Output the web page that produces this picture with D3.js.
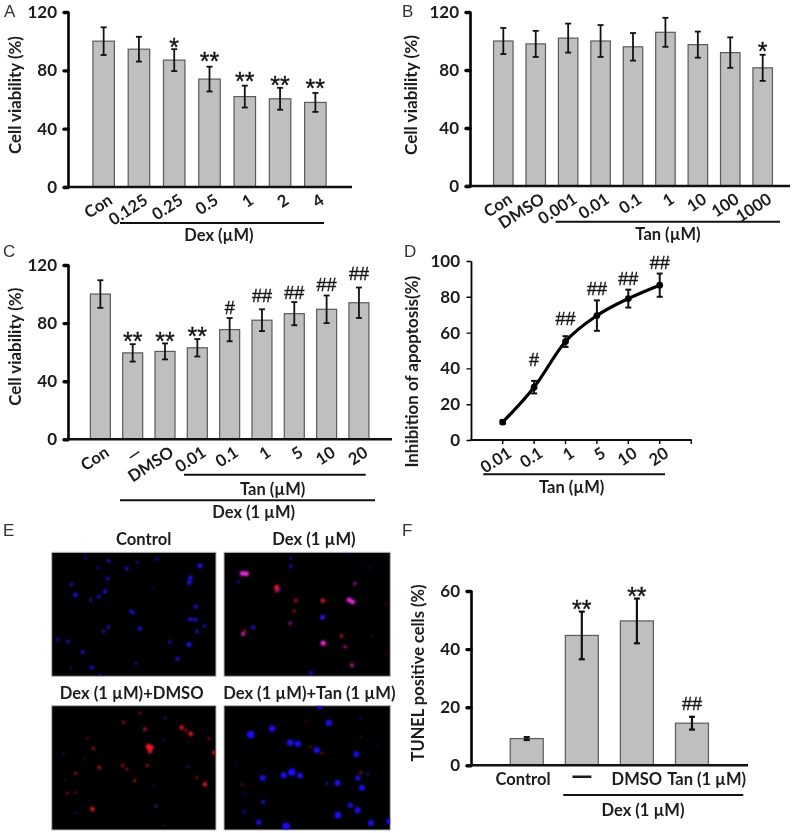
<!DOCTYPE html>
<html><head><meta charset="utf-8">
<style>
html,body{margin:0;padding:0;background:#fff}
svg{display:block;filter:blur(0.4px)}
text{font-family:Lato,"Noto Sans",sans-serif;font-weight:700;fill:#1c1c1c}
</style>
<script src="https://cdnjs.cloudflare.com/ajax/libs/d3/7.8.5/d3.min.js"></script>
</head><body>
<svg id="chart" width="800" height="833"></svg>
<script>
// ---------- data ----------
const catsA = ["Con","0.125","0.25","0.5","1","2","4"];
const valsA = [100,94.5,87,74,62,60.5,58];
const errsA = [9.5,8.5,7.5,8.5,7.5,7.5,6.5];
const sigA  = ["","","*","**","**","**","**"];
const sigYA = [0,0,99.6,90.5,76.8,74,71.5];

const catsB = ["Con","DMSO","0.001","0.01","0.1","1","10","100","1000"];
const valsB = [100,98,102,100,96,106,97.5,92,81.5];
const errsB = [9,9,10,11,9.5,10,9,10.5,9];
const sigB  = ["","","","","","","","","*"];
const sigYB = [0,0,0,0,0,0,0,0,97];

const catsC = ["Con","—","DMSO","0.01","0.1","1","5","10","20"];
const valsC = [100,59.5,60.5,63,75.5,82,86.5,89.5,94];
const errsC = [9.5,6,5.5,6,8,7.5,8,9.5,10.5];
const sigC  = ["","**","**","**","#","##","##","##","##"];
const sigYC = [0,71.4,71.4,75.2,91,99,101.3,106.3,113.9];

const catsD = ["0.01","0.1","1","5","10","20"];
const valsD = [10,29.5,55,69.5,79,86.5];
const errsD = [1,3.5,3,8.5,5,6.5];
const sigD  = ["","#","##","##","##","##"];
const sigYD = [0,44.7,67.6,84.9,90.5,99];

const catsF = ["Control","—","DMSO","Tan (1 µM)"];
const valsF = [9.2,44.7,49.7,14.5];
const errsF = [0.5,8.2,7.7,2.2];
const sigF  = ["","**","**","##"];
const sigYF = [0,55.8,60.3,21.3];

const ticks120 = [0,40,80,120];
const ticks100 = [0,20,40,60,80,100];
const ticks60  = [0,20,40,60];

const titlesE = ["Control","Dex (1 µM)","Dex (1 µM)+DMSO","Dex (1 µM)+Tan (1 µM)"];

// micrograph cells: [field x, field y, intensity]
const blueE1 = [[107,24,.5],[176,34,.7],[145,53,.5],[230,56,.7],[262,38,.5],[321,28,.6],[450,48,1],[421,84,.9],[418,98,.9],[64,103,.7],[173,87,.7],[165,125,.8],[147,141,.7],[76,135,.9],[122,150,.6],[310,115,.3],[243,184,.7],[250,188,.7],[437,170,.8],[420,208,.8],[436,209,.8],[175,231,.7],[161,245,.6],[269,236,.8],[441,244,.7],[463,228,.6],[24,269,.6],[54,274,.7],[359,276,.6],[417,283,1],[98,306,.7],[382,326,.8],[258,339,.5],[62,354,.4],[125,352,.8],[152,376,.6],[355,378,.4]];
const redE1  = [[160,240,.2],[208,285,.15],[358,260,.2],[100,125,.12]];
const magE2  = [[60,71,.9],[72,72,.9],[380,150,.9],[390,156,.9],[302,279,1],[62,252,.7],[203,220,.5],[397,101,.5],[388,345,.6],[368,290,.5]];
const blueE2 = [[205,25,.5],[205,50,.6],[48,96,.5],[170,120,.5],[300,202,.9],[93,232,.7],[266,368,.7],[437,55,.3],[375,14,.3]];
const redE2  = [[163,112,.9],[163,122,.7],[301,152,.8],[220,152,.6],[215,183,.5],[357,258,.6],[68,243,.5],[490,160,.2],[448,258,.2],[492,310,.2]];
const redE3  = [[296,130,1.1],[303,132,1],[300,144,.8],[395,73,.8],[422,92,.8],[408,82,.5],[285,78,.6],[221,57,.5],[270,30,.4],[130,135,.5],[113,105,.3],[148,192,.6],[218,186,.5],[230,197,.4],[292,187,.5],[254,231,.5],[76,210,.5],[52,268,.4],[76,266,.3],[127,316,.8],[465,242,.8],[440,222,.4],[477,105,.4],[492,148,.7],[105,165,.2]];
const blueE3 = [[345,44,.4],[340,110,.3],[415,190,.4],[318,307,.5],[40,150,.3],[75,328,.25],[310,245,.2],[45,230,.2],[340,365,.2],[415,115,.2]];
const blueE4 = [[292,10,.8],[319,59,1],[149,76,1],[85,94,1.3],[203,118,1],[226,121,1],[283,140,1],[401,152,.9],[208,206,1.3],[184,215,.9],[233,216,.9],[121,223,.9],[345,238,.9],[313,239,.4],[406,223,.8],[418,252,.9],[122,295,.6],[65,323,.4],[383,304,.8],[405,319,.9],[346,334,1.1],[109,355,.8],[191,367,1.3],[445,357,.9],[498,352,.8],[68,272,.3],[38,182,.2],[415,45,.25],[465,125,.2],[435,212,.4]];
const redE4  = [[250,55,.2],[415,100,.2],[300,150,.3],[265,130,.25],[415,207,.4],[60,243,.3]];

// ---------- drawing ----------
const svg = d3.select("#chart");
const SANS = "'Liberation Sans',Arial,sans-serif";

const defs = svg.append("defs");
defs.append("filter").attr("id","soft").attr("x","-100%").attr("y","-100%").attr("width","300%").attr("height","300%")
  .append("feGaussianBlur").attr("stdDeviation",1.1);

function label(x,y,txt,opt={}){
  return svg.append("text").attr("x",x).attr("y",y).attr("text-anchor",opt.anchor||"middle")
    .style("font-size",(opt.size||16.5)+"px").style("font-family",opt.family||null)
    .style("font-weight",opt.weight||null).style("fill",opt.fill||null).text(txt);
}
function letter(x,y,t){ label(x,y,t,{anchor:"start",family:SANS,weight:400,fill:"#333",size:17}); }
function yTitle(x,y,txt,len){
  const t = svg.append("text").attr("transform",`translate(${x},${y}) rotate(-90)`).attr("text-anchor","middle")
    .style("font-size","16px").text(txt);
  const w = t.node().getComputedTextLength();
  t.style("font-size",(16*len/w)+"px");
}
function hline(x1,x2,y,w=2){
  svg.append("line").attr("x1",x1).attr("x2",x2).attr("y1",y).attr("y2",y).attr("stroke","#111").attr("stroke-width",w);
}
function yAxis(scale,ticks,x,width,tickW,tickLen){
  const g = svg.append("g").attr("transform",`translate(${x},0)`)
    .call(d3.axisLeft(scale).tickValues(ticks).tickSize(tickLen).tickSizeOuter(0).tickPadding(7));
  g.select(".domain").attr("stroke","#000").attr("stroke-width",width);
  g.selectAll(".tick line").attr("stroke","#000").attr("stroke-width",tickW).attr("stroke-linecap","round");
  g.selectAll("text").style("font-size","17px").style("font-family","Lato");
  return g;
}
function xLabels(scale,y,dx,dy,angle){
  const g = svg.append("g").attr("transform",`translate(0,${y})`)
    .call(d3.axisBottom(scale).tickSize(0).tickPadding(0));
  g.select(".domain").remove();
  g.selectAll("text").attr("text-anchor","end").attr("y",null).attr("dy",null)
    .attr("transform",`translate(${dx},${dy}) rotate(${angle})`)
    .style("font-size","16.5px").style("font-family","Lato");
  return g;
}
function sigMarks(x,y,cats,sig,sigY){
  cats.forEach((c,i)=>{
    if(!sig[i]) return;
    const star = sig[i][0]==="*";
    svg.append("text").attr("x",x(c)).attr("y",y(sigY[i])+(star?14.5:6.5)).attr("text-anchor","middle")
      .style("font-family",SANS).style("font-weight",400).style("fill","#111")
      .style("stroke","#111").style("stroke-width",0.35)
      .style("font-size",(star?25:18)+"px").text(sig[i]);
  });
}
function errBars(x,y,cats,vals,errs,cap,w){
  const g = svg.append("g").attr("stroke","#111").attr("stroke-width",w);
  cats.forEach((c,i)=>{
    const cx=x(c), t=y(vals[i]+errs[i]), b=y(vals[i]-errs[i]);
    g.append("line").attr("x1",cx).attr("x2",cx).attr("y1",t).attr("y2",b);
    g.append("line").attr("x1",cx-cap).attr("x2",cx+cap).attr("y1",t).attr("y2",t);
    g.append("line").attr("x1",cx-cap).attr("x2",cx+cap).attr("y1",b).attr("y2",b);
  });
}
function barPanel(p){
  const x = d3.scaleBand().domain(p.cats).range(p.xr).padding(0);
  const pos = c => x(c)+x.bandwidth()/2;
  const y = d3.scaleLinear().domain([0,p.max]).range(p.yr);
  svg.append("g").selectAll("rect").data(p.cats).join("rect")
    .attr("x",c=>pos(c)-p.bw/2).attr("width",p.bw)
    .attr("y",(c,i)=>y(p.vals[i])).attr("height",(c,i)=>y(0)-y(p.vals[i]))
    .attr("fill","#bfbfbf").attr("stroke","#5a5a5a").attr("stroke-width",1.2);
  errBars(pos,y,p.cats,p.vals,p.errs,p.cap,p.ew);
  yAxis(y,p.ticks,p.ax,2.6,3.4,4);
  hline(p.ax-4,p.xEnd,y(0),2.6);
  sigMarks(pos,y,p.cats,p.sig,p.sigY);
  return {x,y,pos};
}

// Panel A
const pA = barPanel({cats:catsA,vals:valsA,errs:errsA,sig:sigA,sigY:sigYA,max:120,ticks:ticks120,xr:[86,333],yr:[187,12],bw:21.5,cap:3,ew:1.8,ax:68,xEnd:352});
xLabels(pA.x,187,10,16,-33);
hline(120,324,223); label(219,241,"Dex (µM)");
yTitle(21,95,"Cell viability (%)",118);
letter(4,17,"A");

// Panel B
const pB = barPanel({cats:catsB,vals:valsB,errs:errsB,sig:sigB,sigY:sigYB,max:120,ticks:ticks120,xr:[487.1,778.9],yr:[186,12],bw:19.5,cap:3,ew:1.8,ax:470,xEnd:790});
xLabels(pB.x,186,10,16,-33);
hline(555.7,780,221.7); label(668,240,"Tan (µM)");
yTitle(417,95,"Cell viability (%)",120);
letter(402,17,"B");

// Panel C
const pC = barPanel({cats:catsC,vals:valsC,errs:errsC,sig:sigC,sigY:sigYC,max:120,ticks:ticks120,xr:[84.2,375.1],yr:[439.3,265],bw:20,cap:3,ew:1.8,ax:68,xEnd:392});
xLabels(pC.x,439.3,10,16,-33);
hline(184,365.7,474.7); label(272.7,495,"Tan (µM)");
hline(120,375,500.3); label(253.7,518,"Dex (1 µM)");
yTitle(21,346.7,"Cell viability (%)",118);
letter(3,257,"C");

// Panel D
const xD = d3.scaleBand().domain(catsD).range([487,675.4]);
const posD = c => xD(c)+xD.bandwidth()/2;
const yD = d3.scaleLinear().domain([0,100]).range([440,261]);
yAxis(yD,ticks100,471,1.8,1.4,4);
hline(470,691.7,440,1.8);
svg.append("g").selectAll("line").data(catsD).join("line")
  .attr("x1",posD).attr("x2",posD).attr("y1",440).attr("y2",444).attr("stroke","#000").attr("stroke-width",1.4);
svg.append("line").attr("x1",691.2).attr("x2",691.2).attr("y1",440).attr("y2",444).attr("stroke","#000").attr("stroke-width",1.4);
svg.append("path").attr("d",d3.line().x(posD).y((c,i)=>yD(valsD[i])).curve(d3.curveMonotoneX)(catsD))
  .attr("fill","none").attr("stroke","#000").attr("stroke-width",3.2);
errBars(posD,yD,catsD,valsD,errsD,3,2);
svg.append("g").selectAll("circle").data(catsD).join("circle")
  .attr("cx",posD).attr("cy",(c,i)=>yD(valsD[i])).attr("r",3.4).attr("fill","#000");
sigMarks(posD,yD,catsD,sigD,sigYD);
xLabels(xD,440,10,16,-33);
hline(483.3,665,474.3); label(571.7,493,"Tan (µM)");
yTitle(418,371.7,"Inhibition of apoptosis(%)",192);
letter(404,257,"D");

// Panel E
const panelsE = [
  {t:titlesE[0],x0:51.7,x1:216,y0:552.3,y1:676.3,tx:143.7,ty:545,k:.8,layers:[[redE1,"#a01830"],[blueE1,"#2410e8"]],dom:[5,498]},
  {t:titlesE[1],x0:224,x1:390.3,y0:552.3,y1:676.3,tx:314,ty:545,k:.85,layers:[[blueE2,"#2a14f0"],[redE2,"#e81830"],[magE2,"#f028e0"]],dom:[5,503]},
  {t:titlesE[2],x0:51.7,x1:216,y0:705.7,y1:830,tx:131.7,ty:699,k:.85,layers:[[blueE3,"#4a28b8"],[redE3,"#f01828"]],dom:[5,498]},
  {t:titlesE[3],x0:224,x1:390.3,y0:705.7,y1:830,tx:309.3,ty:699,k:1,layers:[[redE4,"#a82818"],[blueE4,"#1c10f8"]],dom:[5,503]}
];
const rScale = d3.scaleLinear().domain([0,1.3]).range([1,3.8]);
const opScale = d3.scaleLinear().domain([0,.9]).range([.2,1]).clamp(true);
panelsE.forEach((p,k)=>{
  label(p.tx,p.ty,p.t,{size:16.6});
  const fx = d3.scaleLinear().domain(p.dom).range([p.x0,p.x1]);
  const fy = d3.scaleLinear().domain([8,378]).range([p.y0,p.y1]);
  const id = "clipE"+k;
  defs.append("clipPath").attr("id",id).append("rect").attr("x",p.x0).attr("y",p.y0).attr("width",p.x1-p.x0).attr("height",p.y1-p.y0);
  svg.append("rect").attr("x",p.x0).attr("y",p.y0).attr("width",p.x1-p.x0).attr("height",p.y1-p.y0)
    .attr("fill","#000").attr("stroke","#bbb").attr("stroke-width",1);
  const g = svg.append("g").attr("clip-path",`url(#${id})`).append("g").attr("filter","url(#soft)");
  p.layers.forEach(([cells,col])=>{
    g.append("g").selectAll("circle").data(cells).join("circle")
      .attr("cx",d=>fx(d[0])).attr("cy",d=>fy(d[1])).attr("r",d=>rScale(d[2])*p.k)
      .attr("fill",col).attr("opacity",d=>opScale(d[2]));
  });
});
letter(3,536,"E");
letter(402,536,"F");

// Panel F
const pF = barPanel({cats:catsF,vals:valsF,errs:errsF,sig:sigF,sigY:sigYF,max:60,ticks:ticks60,xr:[499.2,719.5],yr:[765.3,591],bw:33,cap:3,ew:2.2,ax:471,xEnd:748});
const gF = svg.append("g").attr("transform","translate(0,765.3)")
  .call(d3.axisBottom(pF.x).tickSize(0).tickPadding(0));
gF.select(".domain").remove();
const shiftF = d => d.startsWith("Tan") ? 14.7 : d==="Control" ? -3.7 : 0;
gF.selectAll("text").attr("y",20).attr("dy",null).attr("x",shiftF)
  .style("font-size",d=>d==="—"?"28px":"16.5px").style("font-family","Lato");
hline(563.3,743.3,795); label(643,816,"Dex (1 µM)");
yTitle(424,673,"TUNEL positive cells (%)",177);
</script>
</body></html>
